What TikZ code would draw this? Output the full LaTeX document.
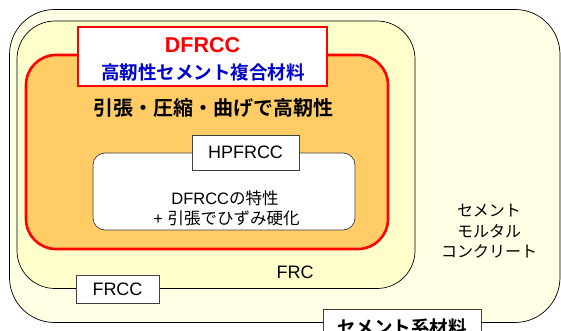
\documentclass[tikz,border=0pt]{standalone}
\usepackage{fontspec}
\setmainfont{Liberation Sans}
\newfontfamily\jp[BoldFont={Noto Sans CJK JP Bold}]{Noto Sans CJK JP}
\definecolor{outerfill}{HTML}{FFFFE6}
\definecolor{frcfill}{HTML}{FFFFCC}
\definecolor{orangefill}{HTML}{FFCC66}
\definecolor{redline}{HTML}{FF0000}
\definecolor{bluetext}{HTML}{0000CC}
\definecolor{greyline}{HTML}{404040}
\begin{document}
\begin{tikzpicture}[x=1pt,y=-1pt,
  region/.style={draw=black, line width=0.7pt, inner sep=0pt},
  redregion/.style={draw=redline, line width=2.6pt, inner sep=0pt},
  labelbox/.style={draw=greyline, fill=white, line width=0.7pt, inner sep=0pt},
  txt/.style={inner sep=0pt, anchor=center}]
\useasboundingbox (0,0) rectangle (561,331);
\fill[white] (0,0) rectangle (561,331);
% regions
\node[region, fill=outerfill, rounded corners=45pt, minimum width=550.5pt, minimum height=313pt] (outer) at (284.75,166) {};
\node[region, fill=frcfill, rounded corners=38pt, minimum width=398pt, minimum height=267.5pt] (frc) at (216,154.75) {};
\node[redregion, fill=orangefill, rounded corners=30pt, minimum width=362pt, minimum height=194pt] (dfr) at (207,152) {};
\node[redregion, fill=white, minimum width=249pt, minimum height=59pt] (title) at (202.5,56.5) {};
\node[region, draw=greyline, fill=white, rounded corners=12pt, minimum width=262pt, minimum height=77pt] (hp) at (224,191.5) {};
% label boxes
\node[labelbox, minimum width=107pt, minimum height=35pt] (hpbox) at (245.5,152.5) {};
\node[labelbox, minimum width=83pt, minimum height=28pt] (frccbox) at (117.5,289) {};
\node[labelbox, line width=0.9pt, minimum width=158pt, minimum height=44pt] (cembox) at (402,331) {};
% texts
\node[txt, text=redline, font=\bfseries\fontsize{21.5}{23}\selectfont] (t1) at (202.5,45) {DFRCC};
\node[txt, text=bluetext, font=\jp\bfseries\fontsize{18.5}{20}\selectfont] (t2) at (203,72) {高靭性セメント複合材料};
\node[txt, font=\jp\bfseries\fontsize{20}{22}\selectfont] (t3) at (213,108) {引張・圧縮・曲げで高靭性};
\node[txt, font=\fontsize{18}{20}\selectfont] (hpt) at (245.5,152.5) {HPFRCC};
\node[txt, font=\fontsize{16.5}{18}\selectfont] (c1) at (225,198) {DFRCC{\jp の特性}};
\node[txt, font=\fontsize{16.5}{18}\selectfont] (c2) at (226.5,218) {+ {\jp 引張でひずみ硬化}};
\node[txt, font=\fontsize{18}{20}\selectfont] (frct) at (295,272) {FRC};
\node[txt, font=\fontsize{18}{20}\selectfont] (frcct) at (117.5,289) {FRCC};
\node[txt, font=\jp\fontsize{16}{20}\selectfont] (r1) at (489,211) {セメント};
\node[txt, font=\jp\fontsize{16}{20}\selectfont] (r2) at (489,231) {モルタル};
\node[txt, font=\jp\fontsize{16}{20}\selectfont] (r3) at (489,251) {コンクリート};
\node[txt, font=\jp\bfseries\fontsize{18.5}{20}\selectfont] (cemt) at (402,327) {セメント系材料};
\end{tikzpicture}
\end{document}
